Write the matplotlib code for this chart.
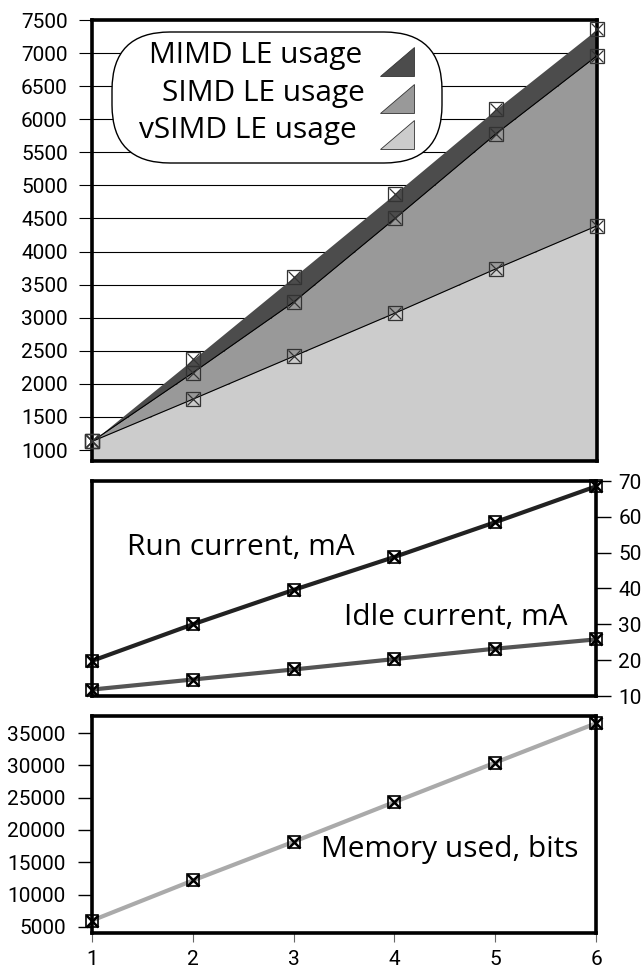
import numpy as np
import matplotlib
matplotlib.use("Agg")
import matplotlib.pyplot as plt
from matplotlib.patches import FancyBboxPatch, Polygon
from matplotlib.transforms import IdentityTransform

# data
x = [1, 2, 3, 4, 5, 6]
mimd_le = [1130, 2370, 3620, 4875, 6150, 7360]
simd_le = [1130, 2170, 3240, 4500, 5780, 6960]
vsimd_le = [1130, 1770, 2420, 3070, 3740, 4390]
run_current = [19.8, 30.0, 39.6, 48.8, 58.5, 68.5]
idle_current = [11.8, 14.6, 17.4, 20.3, 23.2, 25.8]
memory_bits = [6000, 12190, 18180, 24320, 30420, 36500]

le_ticks = list(range(1000, 7501, 500))
ma_ticks = [10, 20, 30, 40, 50, 60, 70]
mem_ticks = [5000, 10000, 15000, 20000, 25000, 30000, 35000]

W, H = 643, 971
tick_font = ['Roboto', 'DejaVu Sans']
text_font = ['Open Sans', 'DejaVu Sans']


def rect(l, t, r, b):
    return [l / W, 1 - b / H, (r - l) / W, (b - t) / H]


def boxed_x(ax, xs, ys, color='black', ms=9):
    ax.plot(xs, ys, 's', ms=ms, mfc='none', mec=color, mew=1.2, clip_on=False, zorder=5)
    ax.plot(xs, ys, 'x', ms=ms - 1, mec=color, mew=1.8, clip_on=False, zorder=6)


def frame(ax):
    for s in ax.spines.values():
        s.set_linewidth(2.6)
        s.set_color('black')


fig = plt.figure(figsize=(W / 100, H / 100), dpi=100)

# ---- top: LE usage areas
ax1 = fig.add_axes(rect(92, 20, 597, 461))
ax1.fill_between(x, 0, vsimd_le, color='#cccccc', lw=0)
ax1.fill_between(x, vsimd_le, simd_le, color='#999999', lw=0)
ax1.fill_between(x, simd_le, mimd_le, color='#4c4c4c', lw=0)
ax1.plot(x, vsimd_le, color='black', lw=0.8)
ax1.plot(x, simd_le, color='black', lw=0.8)
for s in (mimd_le, simd_le, vsimd_le):
    ax1.plot(x, s, 's', ms=10, mfc='none', mec='#333333', mew=0.9, clip_on=False, zorder=5)
    ax1.plot(x, s, 'x', ms=9, mec='#333333', mew=0.9, clip_on=False, zorder=6)
ax1.set_xlim(1, 6)
ax1.set_ylim(835, 7490)
ax1.set_yticks(le_ticks)
ax1.set_yticklabels([str(t) for t in le_ticks], family=tick_font, fontsize=15)
ax1.grid(axis='y', color='black', lw=0.8)
ax1.set_axisbelow(True)
ax1.tick_params(axis='y', length=9.5, width=0.8, pad=8)
ax1.tick_params(axis='x', bottom=False, labelbottom=False)
frame(ax1)

# legend drawn by hand (rounded box + triangles)
fig.add_artist(FancyBboxPatch((112, H - 163), 330, 131,
                              boxstyle='round,pad=0,rounding_size=58',
                              transform=IdentityTransform(),
                              fc='white', ec='black', lw=1.0, zorder=10))
leg_rows = [('MIMD LE usage', 55, 362, '#4c4c4c', 47),
            ('SIMD LE usage', 93, 365, '#999999', 84),
            ('vSIMD LE usage', 130, 357, '#cccccc', 120)]
for label, ty, tx, col, top in leg_rows:
    fig.text(tx / W, 1 - ty / H, label, ha='right', va='center',
             family=text_font, fontsize=21.5, zorder=11)
    tri = [(380, H - (top + 29)), (414, H - (top + 29)), (414, H - top)]
    fig.add_artist(Polygon(tri, closed=True, transform=IdentityTransform(),
                           fc=col, ec='#333333', lw=0.6, zorder=11))

# ---- middle: currents
ax2 = fig.add_axes(rect(92, 481, 596, 696))
ax2.plot(x, run_current, color='#222222', lw=3)
ax2.plot(x, idle_current, color='#555555', lw=3)
boxed_x(ax2, x, run_current)
boxed_x(ax2, x, idle_current)
ax2.set_xlim(1, 6)
ax2.set_ylim(10, 70)
ax2.yaxis.tick_right()
ax2.set_yticks(ma_ticks)
ax2.set_yticklabels([str(t) for t in ma_ticks], family=tick_font, fontsize=15)
ax2.tick_params(axis='y', length=11, width=1, pad=5)
ax2.tick_params(axis='x', bottom=False, labelbottom=False)
ax2.text(2.48, 51.5, 'Run current, mA', ha='center', va='center',
         family=text_font, fontsize=21.5)
ax2.text(4.61, 32, 'Idle current, mA', ha='center', va='center',
         family=text_font, fontsize=21.5)
frame(ax2)

# ---- bottom: memory
ax3 = fig.add_axes(rect(92, 716, 596, 933))
ax3.plot(x, memory_bits, color='#aaaaaa', lw=3)
boxed_x(ax3, x, memory_bits)
ax3.set_xlim(1, 6)
ax3.set_ylim(4070, 37630)
ax3.set_yticks(mem_ticks)
ax3.set_yticklabels([str(t) for t in mem_ticks], family=tick_font, fontsize=15)
ax3.set_xticks(x)
ax3.set_xticklabels([str(v) for v in x], family=tick_font, fontsize=15)
ax3.tick_params(axis='y', length=10, width=1, pad=9)
ax3.tick_params(axis='x', length=6.5, width=0.8, color='#666666', pad=6)
ax3.text(4.55, 17000, 'Memory used, bits', ha='center', va='center',
         family=text_font, fontsize=21.5)
frame(ax3)

fig.savefig('out.png', dpi=100)
